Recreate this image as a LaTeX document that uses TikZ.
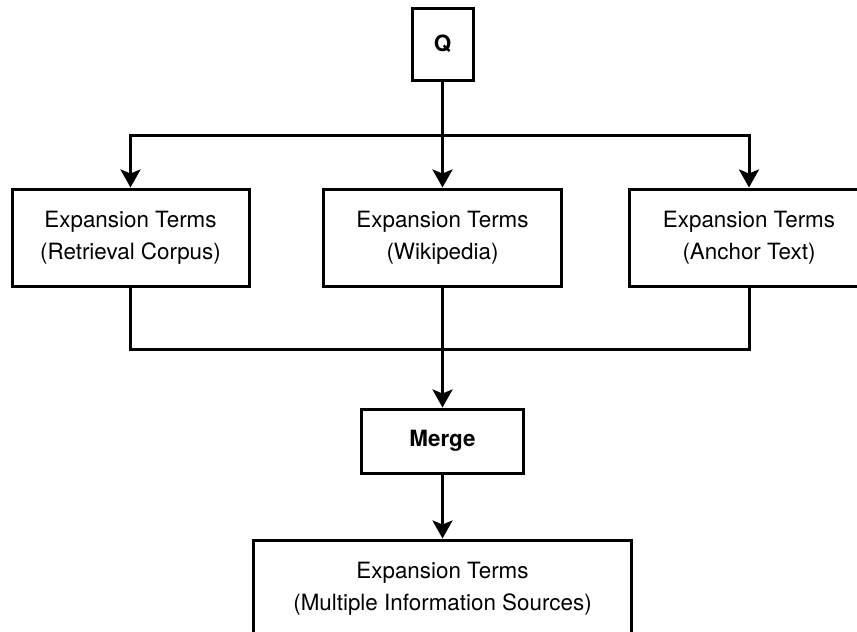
\documentclass[tikz,border=0pt]{standalone}
\usepackage{fontspec}
\setmainfont{TeX Gyre Heros}
\usetikzlibrary{arrows.meta}

\begin{document}
\begin{tikzpicture}[x=0.5pt,y=-0.5pt,line width=1.5pt,
	box/.style={draw,align=center,font=\fontsize{11.2}{16}\selectfont,inner sep=0pt},
	flow/.style={-{Stealth[length=9pt,width=10pt,inset=2pt]}}]
					\clip (0,0) rectangle (857,632);
					\fill[white] (0,0) rectangle (857,632);
					\node[box,font=\fontsize{11.2}{16}\selectfont\bfseries,minimum width=30.5pt,minimum height=36pt] (q) at (442.5,44) {Q};
					\node[box,minimum width=118.5pt,minimum height=48.5pt] (retr) at (130.5,237.5) {Expansion Terms\\(Retrieval Corpus)};
					\node[box,minimum width=119pt,minimum height=48.5pt] (wiki) at (442.5,237.5) {Expansion Terms\\(Wikipedia)};
					\node[box,minimum width=120pt,minimum height=48.5pt] (anch) at (749,237.5) {Expansion Terms\\(Anchor Text)};
					\node[box,font=\fontsize{11.2}{16}\selectfont\bfseries,minimum width=81pt,minimum height=32pt] (merge) at (442.5,441) {Merge};
					\node[box,minimum width=189pt,minimum height=49pt] (multi) at (442.5,589) {Expansion Terms\\(Multiple Information Sources)};
					\coordinate (split) at (442.5,135);
					\coordinate (join) at (442.5,349);
					\draw[flow] (q.south) -- (wiki.north);
					\draw[flow] (split) -| (retr.north);
					\draw[flow] (split) -| (anch.north);
					\draw (retr.south) |- (join);
					\draw (anch.south) |- (join);
					\draw[flow] (wiki.south) -- (merge.north);
					\draw[flow] (merge.south) -- (multi.north);
\end{tikzpicture}
\end{document}
